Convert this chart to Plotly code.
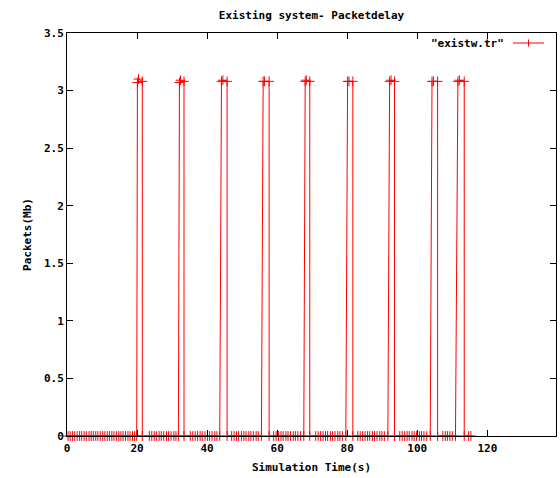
import plotly.graph_objects as go

# ---- data ----
zero_segments = [
    [0.3, 0.9, 1.6, 2.2, 2.9, 3.6, 4.2, 4.9, 5.5, 6.3, 6.9, 7.5, 8.2, 8.8, 9.5, 10.2,
     10.8, 11.5, 12.1, 12.8, 13.4, 14.1, 14.8, 15.4, 16.0, 16.7, 17.4, 18.0, 18.7, 19.3, 19.9],
    [23.5, 24.2, 24.9, 25.5, 26.3, 26.9, 27.6, 28.4, 29.0, 29.7, 30.5, 31.1, 31.8],
    [35.2, 35.9, 36.6, 37.3, 38.0, 38.6, 39.4, 40.1, 40.7, 41.4, 42.2, 42.8, 43.6],
    [47.0, 47.7, 48.4, 49.0, 49.8, 50.5, 51.1, 51.9, 52.5, 53.2, 54.0, 54.6, 55.5],
    [59.0, 59.7, 60.4, 61.1, 61.7, 62.5, 63.1, 63.8, 64.6, 65.2, 65.9, 66.7, 67.6],
    [71.0, 71.7, 72.4, 73.1, 73.8, 74.4, 75.2, 75.8, 76.5, 77.3, 77.9, 78.6, 79.6],
    [83.0, 83.7, 84.4, 85.1, 85.8, 86.4, 87.2, 87.8, 88.5, 89.3, 89.9, 90.6, 91.6],
    [95.0, 95.7, 96.4, 97.1, 97.7, 98.5, 99.1, 99.8, 100.6, 101.2, 101.9, 102.7, 103.7],
    [107.3, 108.0, 108.6, 109.3, 110.0, 110.9],
    [114.6, 115.3],
]
peak_start = [20.1, 32.1, 44.1, 56.0, 68.0, 80.1, 92.1, 104.2, 111.6]
peak_end = [21.5, 33.4, 45.7, 57.7, 69.3, 81.6, 93.5, 105.8, 113.4]
peak_first = [3.07, 3.07, 3.08, 3.08, 3.08, 3.08, 3.08, 3.08, 3.08]
peak_second = [3.10, 3.09, 3.09, 3.08, 3.09, 3.08, 3.09, 3.08, 3.09]
peak_last = [3.08, 3.08, 3.08, 3.08, 3.08, 3.08, 3.08, 3.08, 3.08]
peak_second_x = [20.4, 32.4, 44.5, 56.4, 68.3, 80.5, 92.5, 104.6, 112.0]

x_ticks = [0, 20, 40, 60, 80, 100, 120]
series_name = '"existw.tr"'

# ---- assemble series ----
time, packets = [], []
for i, seg in enumerate(zero_segments):
    time += seg
    packets += [0] * len(seg)
    if i < len(peak_start):
        time += [peak_start[i], peak_second_x[i], peak_end[i], peak_end[i]]
        packets += [peak_first[i], peak_second[i], peak_last[i], 0]

FONT = dict(family="DejaVu Sans Mono", size=11, color="black", weight="bold")
RED = "#ff0000"

fig = go.Figure()
fig.add_trace(go.Scatter(
    x=time, y=packets, mode="lines+markers",
    line=dict(color=RED, width=1),
    marker=dict(symbol="cross-thin", size=7, color=RED, line=dict(color=RED, width=1)),
    cliponaxis=False, showlegend=False, name=series_name,
))

L, R, T, B = 67, 4, 33, 42
W, H = 560, 478
pw, ph = W - L - R, H - T - B

def px2x(px):
    return (px - L) / pw

def py2y(py):
    return (H - B - py) / ph

# legend drawn gnuplot-style: text then sample
fig.add_annotation(x=px2x(506), y=py2y(43), xref="paper", yref="paper",
                   text=series_name, showarrow=False, xanchor="right", yanchor="middle",
                   font=FONT)
fig.add_shape(type="line", xref="paper", yref="paper",
              x0=px2x(513), x1=px2x(544), y0=py2y(43), y1=py2y(43),
              line=dict(color=RED, width=1))
fig.add_shape(type="line", xref="paper", yref="paper",
              x0=px2x(528.5), x1=px2x(528.5), y0=py2y(39.5), y1=py2y(46.5),
              line=dict(color=RED, width=1))

axis_common = dict(showgrid=False, zeroline=False, showline=True, linecolor="black",
                   linewidth=1, mirror="ticks", ticks="inside", ticklen=6,
                   tickcolor="black", tickfont=FONT)

fig.update_layout(
    width=W, height=H,
    margin=dict(l=L, r=R, t=T, b=B),
    paper_bgcolor="white", plot_bgcolor="white",
    title=dict(text="Existing system- Packetdelay", x=0.5, xref="paper",
               y=(H - 15) / H, yanchor="middle", font=FONT),
    xaxis=dict(range=[0, 139.6], tickvals=x_ticks, ticklabelstandoff=2,
               title=dict(text="Simulation Time(s)", font=FONT, standoff=9),
               **axis_common),
    yaxis=dict(range=[0, 3.5], dtick=0.5, tick0=0,
               title=dict(text="Packets(Mb)", font=FONT, standoff=10),
               **axis_common),
)

fig.write_html("out.html")
